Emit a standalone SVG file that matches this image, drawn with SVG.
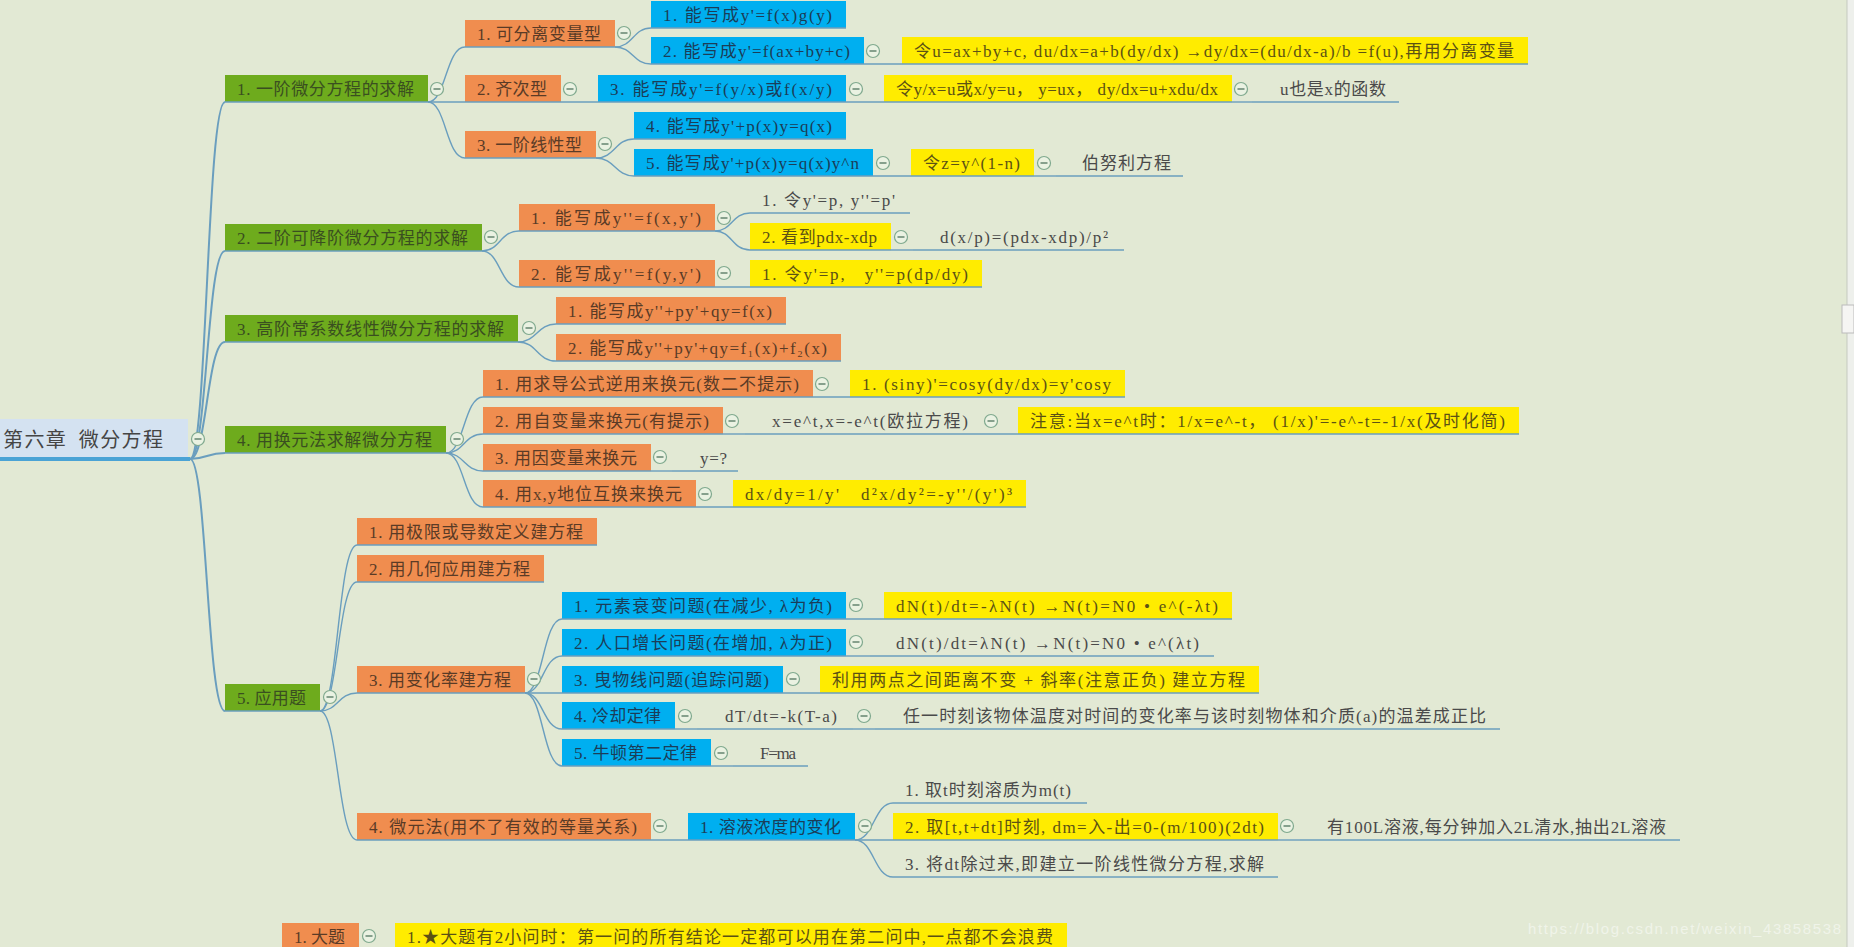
<svg xmlns="http://www.w3.org/2000/svg" xmlns:xlink="http://www.w3.org/1999/xlink" width="1854" height="947" viewBox="0 0 1854 947">
<style>
text{white-space:pre}
.t{font-family:"Liberation Serif","Noto Sans CJK SC",serif;font-size:17px}
.rootT{font-family:"Noto Sans CJK SC","Noto Sans",sans-serif;font-size:20px;fill:#454545}
.G{fill:#6eab1d}.O{fill:#f08d4f}.B{fill:#00aff0}.Y{fill:#ffec00}.R{fill:#d4e2f1}
.tG{fill:#3a4f20}.tO{fill:#5a3b26}.tB{fill:#1b3d58}.tY{fill:#5c5214}.tP{fill:#4a4a4a}
.ul{stroke:#6a9ebe;stroke-width:1.5}
.c path{fill:none;stroke:#6a9ebe;stroke-width:1.4}
.c .m{stroke-width:2}
.tgc{fill:#eaf2e2;stroke:#7fa98e;stroke-width:1.2}
.tgl{stroke:#5b7d68;stroke-width:1.4}
</style>
<defs>
<g id="tog"><circle class="tgc" r="6.5"/><line class="tgl" x1="-3.5" y1="0" x2="3.5" y2="0"/></g>
</defs>
<rect x="0" y="0" width="1854" height="947" fill="#e2e9d4"/>
<rect x="1847" y="0" width="7" height="947" fill="#eef0ec"/>
<line x1="1847" y1="0" x2="1847" y2="947" stroke="#c5c9c0" stroke-width="1"/>
<rect x="1842" y="305" width="12" height="28" fill="#f5f5f3" stroke="#bbbbbb" stroke-width="1"/>

<g id="connectors" class="c">
<path class="m" d="M190 459 C207 459 207 102 225 102"/>
<path class="m" d="M190 459 C207 459 207 251 225 251"/>
<path class="m" d="M190 459 C207 459 207 342 225 342"/>
<path class="m" d="M190 459 C207 459 207 453 225 453"/>
<path class="m" d="M190 459 C207 459 207 711 225 711"/>
<path d="M428 102 C446 102 446 47 465 47"/>
<path d="M428 102 L465 102"/>
<path d="M428 102 C446 102 446 158 465 158"/>
<path d="M615 47 C633 47 633 28 651 28"/>
<path d="M615 47 C633 47 633 64 651 64"/>
<path d="M561 102 L598 102"/>
<path d="M596 158 C615 158 615 139 634 139"/>
<path d="M596 158 C615 158 615 176 634 176"/>
<path d="M864 64 L902 64"/>
<path d="M846 102 L884 102"/>
<path d="M1232 102 L1252 102"/>
<path d="M873 176 L911 176"/>
<path d="M1034 176 L1056 176"/>
<path d="M482 251 C500 251 500 231 519 231"/>
<path d="M482 251 C500 251 500 287 519 287"/>
<path d="M715 231 C732 231 732 213 750 213"/>
<path d="M715 231 C732 231 732 250 750 250"/>
<path d="M891 250 L913 250"/>
<path d="M715 287 L750 287"/>
<path d="M518 342 C537 342 537 324 556 324"/>
<path d="M518 342 C537 342 537 361 556 361"/>
<path d="M446 453 C464 453 464 397 483 397"/>
<path d="M446 453 C464 453 464 434 483 434"/>
<path d="M446 453 C464 453 464 471 483 471"/>
<path d="M446 453 C464 453 464 507 483 507"/>
<path d="M813 397 L850 397"/>
<path d="M723 434 L745 434"/>
<path d="M982 434 L1018 434"/>
<path d="M651 471 L672 471"/>
<path d="M696 507 L733 507"/>
<path d="M320 711 C338 711 338 545 357 545"/>
<path d="M320 711 C338 711 338 582 357 582"/>
<path d="M320 711 C338 711 338 693 357 693"/>
<path d="M320 711 C338 711 338 840 357 840"/>
<path d="M525 693 C543 693 543 619 562 619"/>
<path d="M525 693 C543 693 543 656 562 656"/>
<path d="M525 693 L562 693"/>
<path d="M525 693 C543 693 543 729 562 729"/>
<path d="M525 693 C543 693 543 766 562 766"/>
<path d="M846 619 L884 619"/>
<path d="M846 656 L870 656"/>
<path d="M783 693 L820 693"/>
<path d="M675 729 L697 729"/>
<path d="M853 729 L875 729"/>
<path d="M711 766 L733 766"/>
<path d="M651 840 L688 840"/>
<path d="M855 840 C874 840 874 803 893 803"/>
<path d="M855 840 L893 840"/>
<path d="M855 840 C874 840 874 877 893 877"/>
<path d="M1278 840 L1300 840"/>
<path d="M359 950 L395 950"/>
</g>

<g id="root"><rect class="R" x="0" y="419" width="188" height="40"/><line x1="0" y1="459" x2="190" y2="459" stroke="#4aa3d5" stroke-width="4"/><text class="rootT" x="3" y="447" textLength="160">第六章  微分方程</text><use xlink:href="#tog" x="198" y="439"/></g>

<g id="g1"><rect class="G" x="225" y="75" width="203" height="27"/><line class="ul" x1="225" y1="102" x2="428" y2="102"/><text class="t tG" x="237" y="95" textLength="177">1. 一阶微分方程的求解</text><use xlink:href="#tog" x="437" y="89"/></g>
<g id="g2"><rect class="G" x="225" y="224" width="257" height="27"/><line class="ul" x1="225" y1="251" x2="482" y2="251"/><text class="t tG" x="237" y="244" textLength="231">2. 二阶可降阶微分方程的求解</text><use xlink:href="#tog" x="491" y="237"/></g>
<g id="g3"><rect class="G" x="225" y="315" width="293" height="27"/><line class="ul" x1="225" y1="342" x2="518" y2="342"/><text class="t tG" x="237" y="335" textLength="267">3. 高阶常系数线性微分方程的求解</text><use xlink:href="#tog" x="529" y="328"/></g>
<g id="g4"><rect class="G" x="225" y="426" width="221" height="27"/><line class="ul" x1="225" y1="453" x2="446" y2="453"/><text class="t tG" x="237" y="446" textLength="195">4. 用换元法求解微分方程</text><use xlink:href="#tog" x="457" y="439"/></g>
<g id="g5"><rect class="G" x="225" y="684" width="95" height="27"/><line class="ul" x1="225" y1="711" x2="320" y2="711"/><text class="t tG" x="237" y="704" textLength="69">5. 应用题</text><use xlink:href="#tog" x="330" y="697"/></g>

<g id="o1a"><rect class="O" x="465" y="20" width="150" height="27"/><line class="ul" x1="465" y1="47" x2="615" y2="47"/><text class="t tO" x="477" y="40" textLength="124">1. 可分离变量型</text><use xlink:href="#tog" x="624" y="33"/></g>
<g id="o1b"><rect class="O" x="465" y="75" width="96" height="27"/><line class="ul" x1="465" y1="102" x2="561" y2="102"/><text class="t tO" x="477" y="95" textLength="70">2. 齐次型</text><use xlink:href="#tog" x="570" y="89"/></g>
<g id="o1c"><rect class="O" x="465" y="131" width="131" height="27"/><line class="ul" x1="465" y1="158" x2="596" y2="158"/><text class="t tO" x="477" y="151" textLength="105">3. 一阶线性型</text><use xlink:href="#tog" x="605" y="144"/></g>
<g id="o2a"><rect class="O" x="519" y="204" width="196" height="27"/><line class="ul" x1="519" y1="231" x2="715" y2="231"/><text class="t tO" x="531" y="224" textLength="170">1. 能写成y''=f(x,y')</text><use xlink:href="#tog" x="724" y="218"/></g>
<g id="o2b"><rect class="O" x="519" y="260" width="196" height="27"/><line class="ul" x1="519" y1="287" x2="715" y2="287"/><text class="t tO" x="531" y="280" textLength="170">2. 能写成y''=f(y,y')</text><use xlink:href="#tog" x="724" y="273"/></g>
<g id="o3a"><rect class="O" x="556" y="297" width="230" height="27"/><line class="ul" x1="556" y1="324" x2="786" y2="324"/><text class="t tO" x="568" y="317" textLength="204">1. 能写成y''+py'+qy=f(x)</text></g>
<g id="o3b"><rect class="O" x="556" y="334" width="285" height="27"/><line class="ul" x1="556" y1="361" x2="841" y2="361"/><text class="t tO" x="568" y="354" textLength="259">2. 能写成y''+py'+qy=f₁(x)+f₂(x)</text></g>
<g id="o4a"><rect class="O" x="483" y="370" width="330" height="27"/><line class="ul" x1="483" y1="397" x2="813" y2="397"/><text class="t tO" x="495" y="390" textLength="304">1. 用求导公式逆用来换元(数二不提示)</text><use xlink:href="#tog" x="822" y="384"/></g>
<g id="o4b"><rect class="O" x="483" y="407" width="240" height="27"/><line class="ul" x1="483" y1="434" x2="723" y2="434"/><text class="t tO" x="495" y="427" textLength="214">2. 用自变量来换元(有提示)</text><use xlink:href="#tog" x="732" y="421"/></g>
<g id="o4c"><rect class="O" x="483" y="444" width="168" height="27"/><line class="ul" x1="483" y1="471" x2="651" y2="471"/><text class="t tO" x="495" y="464" textLength="142">3. 用因变量来换元</text><use xlink:href="#tog" x="660" y="457"/></g>
<g id="o4d"><rect class="O" x="483" y="480" width="213" height="27"/><line class="ul" x1="483" y1="507" x2="696" y2="507"/><text class="t tO" x="495" y="500" textLength="187">4. 用x,y地位互换来换元</text><use xlink:href="#tog" x="705" y="494"/></g>
<g id="o5a"><rect class="O" x="357" y="518" width="240" height="27"/><line class="ul" x1="357" y1="545" x2="597" y2="545"/><text class="t tO" x="369" y="538" textLength="214">1. 用极限或导数定义建方程</text></g>
<g id="o5b"><rect class="O" x="357" y="555" width="187" height="27"/><line class="ul" x1="357" y1="582" x2="544" y2="582"/><text class="t tO" x="369" y="575" textLength="161">2. 用几何应用建方程</text></g>
<g id="o5c"><rect class="O" x="357" y="666" width="168" height="27"/><line class="ul" x1="357" y1="693" x2="525" y2="693"/><text class="t tO" x="369" y="686" textLength="142">3. 用变化率建方程</text><use xlink:href="#tog" x="534" y="679"/></g>
<g id="o5d"><rect class="O" x="357" y="813" width="294" height="27"/><line class="ul" x1="357" y1="840" x2="651" y2="840"/><text class="t tO" x="369" y="833" textLength="268">4. 微元法(用不了有效的等量关系)</text><use xlink:href="#tog" x="660" y="826"/></g>
<g id="o6"><rect class="O" x="282" y="923" width="77" height="27"/><text class="t tO" x="294" y="943" textLength="51">1. 大题</text><use xlink:href="#tog" x="369" y="936"/></g>

<g id="b1"><rect class="B" x="651" y="1" width="195" height="27"/><line class="ul" x1="651" y1="28" x2="846" y2="28"/><text class="t tB" x="663" y="21" textLength="169">1. 能写成y'=f(x)g(y)</text></g>
<g id="b2"><rect class="B" x="651" y="37" width="213" height="27"/><line class="ul" x1="651" y1="64" x2="864" y2="64"/><text class="t tB" x="663" y="57" textLength="187">2. 能写成y'=f(ax+by+c)</text><use xlink:href="#tog" x="873" y="51"/></g>
<g id="b3"><rect class="B" x="598" y="75" width="248" height="27"/><line class="ul" x1="598" y1="102" x2="846" y2="102"/><text class="t tB" x="610" y="95" textLength="222">3. 能写成y'=f(y/x)或f(x/y)</text><use xlink:href="#tog" x="856" y="89"/></g>
<g id="b4"><rect class="B" x="634" y="112" width="212" height="27"/><line class="ul" x1="634" y1="139" x2="846" y2="139"/><text class="t tB" x="646" y="132" textLength="186">4. 能写成y'+p(x)y=q(x)</text></g>
<g id="b5"><rect class="B" x="634" y="149" width="239" height="27"/><line class="ul" x1="634" y1="176" x2="873" y2="176"/><text class="t tB" x="646" y="169" textLength="213">5. 能写成y'+p(x)y=q(x)y^n</text><use xlink:href="#tog" x="883" y="163"/></g>
<g id="b6"><rect class="B" x="562" y="592" width="284" height="27"/><line class="ul" x1="562" y1="619" x2="846" y2="619"/><text class="t tB" x="574" y="612" textLength="258">1. 元素衰变问题(在减少, λ为负)</text><use xlink:href="#tog" x="856" y="605"/></g>
<g id="b7"><rect class="B" x="562" y="629" width="284" height="27"/><line class="ul" x1="562" y1="656" x2="846" y2="656"/><text class="t tB" x="574" y="649" textLength="258">2. 人口增长问题(在增加, λ为正)</text><use xlink:href="#tog" x="856" y="642"/></g>
<g id="b8"><rect class="B" x="562" y="666" width="221" height="27"/><line class="ul" x1="562" y1="693" x2="783" y2="693"/><text class="t tB" x="574" y="686" textLength="195">3. 曳物线问题(追踪问题)</text><use xlink:href="#tog" x="793" y="679"/></g>
<g id="b9"><rect class="B" x="562" y="702" width="113" height="27"/><line class="ul" x1="562" y1="729" x2="675" y2="729"/><text class="t tB" x="574" y="722" textLength="87">4. 冷却定律</text><use xlink:href="#tog" x="685" y="716"/></g>
<g id="b10"><rect class="B" x="562" y="739" width="149" height="27"/><line class="ul" x1="562" y1="766" x2="711" y2="766"/><text class="t tB" x="574" y="759" textLength="123">5. 牛顿第二定律</text><use xlink:href="#tog" x="721" y="753"/></g>
<g id="b11"><rect class="B" x="688" y="813" width="167" height="27"/><line class="ul" x1="688" y1="840" x2="855" y2="840"/><text class="t tB" x="700" y="833" textLength="141">1. 溶液浓度的变化</text><use xlink:href="#tog" x="865" y="826"/></g>

<g id="y1"><rect class="Y" x="902" y="37" width="626" height="27"/><line class="ul" x1="902" y1="64" x2="1528" y2="64"/><text class="t tY" x="914" y="57" textLength="600">令u=ax+by+c, du/dx=a+b(dy/dx) →dy/dx=(du/dx-a)/b =f(u),再用分离变量</text></g>
<g id="y2"><rect class="Y" x="884" y="75" width="348" height="27"/><line class="ul" x1="884" y1="102" x2="1232" y2="102"/><text class="t tY" x="896" y="95" textLength="322">令y/x=u或x/y=u， y=ux， dy/dx=u+xdu/dx</text><use xlink:href="#tog" x="1241" y="89"/></g>
<g id="y3"><rect class="Y" x="911" y="149" width="123" height="27"/><line class="ul" x1="911" y1="176" x2="1034" y2="176"/><text class="t tY" x="923" y="169" textLength="97">令z=y^(1-n)</text><use xlink:href="#tog" x="1044" y="163"/></g>
<g id="y4"><rect class="Y" x="750" y="223" width="141" height="27"/><line class="ul" x1="750" y1="250" x2="891" y2="250"/><text class="t tY" x="762" y="243" textLength="115">2. 看到pdx-xdp</text><use xlink:href="#tog" x="901" y="237"/></g>
<g id="y5"><rect class="Y" x="750" y="260" width="232" height="27"/><line class="ul" x1="750" y1="287" x2="982" y2="287"/><text class="t tY" x="762" y="280" textLength="206">1. 令y'=p,   y''=p(dp/dy)</text></g>
<g id="y6"><rect class="Y" x="850" y="370" width="275" height="27"/><line class="ul" x1="850" y1="397" x2="1125" y2="397"/><text class="t tY" x="862" y="390" textLength="249">1. (siny)'=cosy(dy/dx)=y'cosy</text></g>
<g id="y7"><rect class="Y" x="1018" y="407" width="501" height="27"/><line class="ul" x1="1018" y1="434" x2="1519" y2="434"/><text class="t tY" x="1030" y="427" textLength="475">注意:当x=e^t时：1/x=e^-t， (1/x)'=-e^-t=-1/x(及时化简)</text></g>
<g id="y8"><rect class="Y" x="733" y="480" width="293" height="27"/><line class="ul" x1="733" y1="507" x2="1026" y2="507"/><text class="t tY" x="745" y="500" textLength="267">dx/dy=1/y'   d²x/dy²=-y''/(y')³</text></g>
<g id="y9"><rect class="Y" x="884" y="592" width="348" height="27"/><line class="ul" x1="884" y1="619" x2="1232" y2="619"/><text class="t tY" x="896" y="612" textLength="322">dN(t)/dt=-λN(t) →N(t)=N0 • e^(-λt)</text></g>
<g id="y10"><rect class="Y" x="820" y="666" width="439" height="27"/><line class="ul" x1="820" y1="693" x2="1259" y2="693"/><text class="t tY" x="832" y="686" textLength="413">利用两点之间距离不变 + 斜率(注意正负) 建立方程</text></g>
<g id="y11"><rect class="Y" x="893" y="813" width="385" height="27"/><line class="ul" x1="893" y1="840" x2="1278" y2="840"/><text class="t tY" x="905" y="833" textLength="359">2. 取[t,t+dt]时刻, dm=入-出=0-(m/100)(2dt)</text><use xlink:href="#tog" x="1287" y="826"/></g>
<g id="y12"><rect class="Y" x="395" y="923" width="672" height="27"/><text class="t tY" x="407" y="943" textLength="646">1.★大题有2小问时：第一问的所有结论一定都可以用在第二问中,一点都不会浪费</text></g>

<g id="t1"><line class="ul" x1="1252" y1="102" x2="1399" y2="102"/><text class="t tP" x="1280" y="95" textLength="106">u也是x的函数</text></g>
<g id="t2"><line class="ul" x1="1056" y1="176" x2="1183" y2="176"/><text class="t tP" x="1082" y="169" textLength="89">伯努利方程</text></g>
<g id="t3"><line class="ul" x1="750" y1="213" x2="910" y2="213"/><text class="t tP" x="762" y="206" textLength="133">1. 令y'=p, y''=p'</text></g>
<g id="t4"><line class="ul" x1="913" y1="250" x2="1124" y2="250"/><text class="t tP" x="940" y="243" textLength="168">d(x/p)=(pdx-xdp)/p²</text></g>
<g id="t5"><line class="ul" x1="745" y1="434" x2="982" y2="434"/><text class="t tP" x="772" y="427" textLength="196">x=e^t,x=-e^t(欧拉方程)</text><use xlink:href="#tog" x="991" y="421"/></g>
<g id="t6"><line class="ul" x1="672" y1="471" x2="738" y2="471"/><text class="t tP" x="700" y="464" textLength="27">y=?</text></g>
<g id="t7"><line class="ul" x1="870" y1="656" x2="1214" y2="656"/><text class="t tP" x="896" y="649" textLength="303">dN(t)/dt=λN(t) →N(t)=N0 • e^(λt)</text></g>
<g id="t8"><line class="ul" x1="697" y1="729" x2="853" y2="729"/><text class="t tP" x="725" y="722" textLength="112">dT/dt=-k(T-a)</text><use xlink:href="#tog" x="864" y="716"/></g>
<g id="t9"><line class="ul" x1="875" y1="729" x2="1500" y2="729"/><text class="t tP" x="903" y="722" textLength="583">任一时刻该物体温度对时间的变化率与该时刻物体和介质(a)的温差成正比</text></g>
<g id="t10"><line class="ul" x1="733" y1="766" x2="808" y2="766"/><text class="t tP" x="760" y="759" textLength="36">F=ma</text></g>
<g id="t11"><line class="ul" x1="893" y1="803" x2="1087" y2="803"/><text class="t tP" x="905" y="796" textLength="166">1. 取t时刻溶质为m(t)</text></g>
<g id="t12"><line class="ul" x1="1300" y1="840" x2="1680" y2="840"/><text class="t tP" x="1327" y="833" textLength="339">有100L溶液,每分钟加入2L清水,抽出2L溶液</text></g>
<g id="t13"><line class="ul" x1="893" y1="877" x2="1278" y2="877"/><text class="t tP" x="905" y="870" textLength="359">3. 将dt除过来,即建立一阶线性微分方程,求解</text></g>

<text x="1528" y="934" textLength="313" style="font-family:'Liberation Sans',sans-serif;font-size:15px;fill:#ffffff;fill-opacity:0.5">https://blog.csdn.net/weixin_43858538</text>
</svg>
